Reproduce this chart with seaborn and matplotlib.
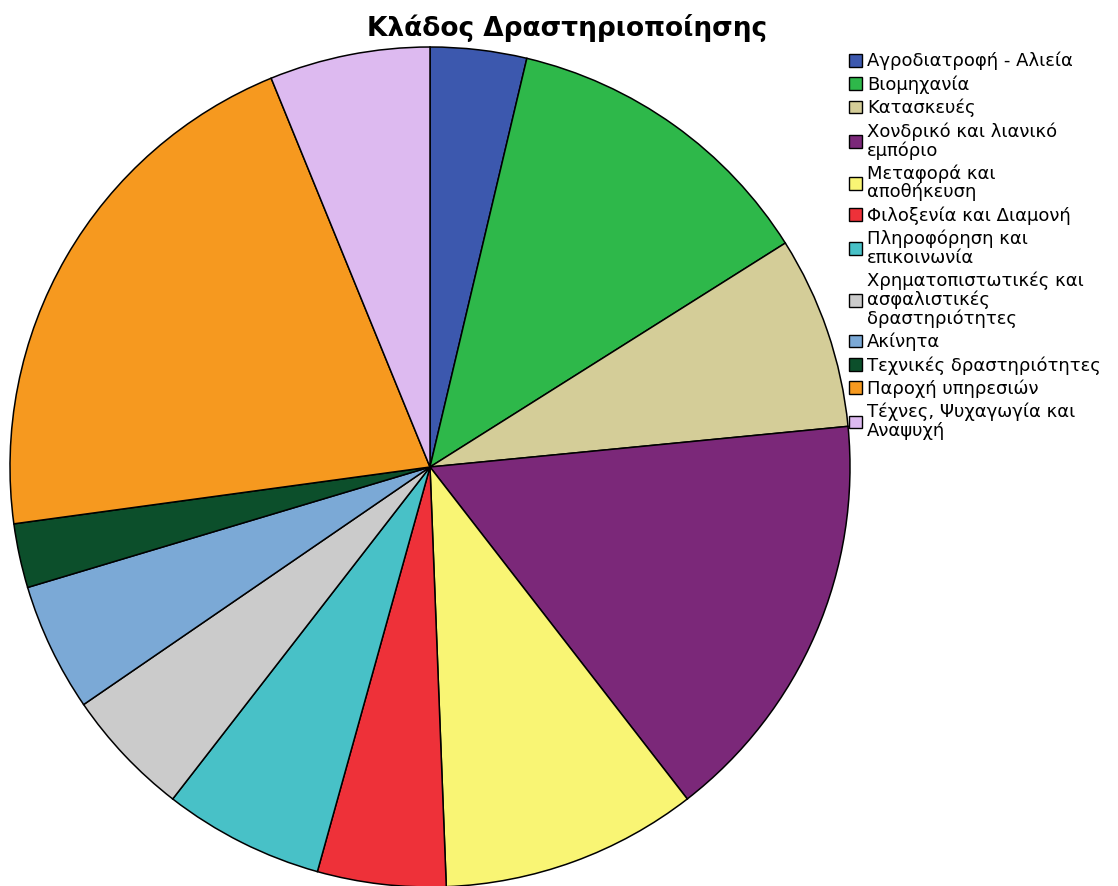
import matplotlib
matplotlib.use("Agg")
import matplotlib.pyplot as plt
import matplotlib.patches as mpatches
import seaborn as sns

sns.set_theme(style="white")
plt.rcParams["font.family"] = ["DejaVu Sans"]
plt.rcParams["text.color"] = "black"

# Number of businesses per sector
sectors = [
    "Αγροδιατροφή - Αλιεία",
    "Βιομηχανία",
    "Κατασκευές",
    "Χονδρικό και λιανικό\nεμπόριο",
    "Μεταφορά και\nαποθήκευση",
    "Φιλοξενία και Διαμονή",
    "Πληροφόρηση και\nεπικοινωνία",
    "Χρηματοπιστωτικές και\nασφαλιστικές\nδραστηριότητες",
    "Ακίνητα",
    "Τεχνικές δραστηριότητες",
    "Παροχή υπηρεσιών",
    "Τέχνες, Ψυχαγωγία και\nΑναψυχή",
]
counts = [3, 10, 6, 13, 8, 4, 5, 4, 4, 2, 17, 5]
colors = [
    "#3C58AE", "#2EB84A", "#D4CD98", "#7B2879", "#F9F574", "#EE3139",
    "#48C1C7", "#CBCBCB", "#7BA9D6", "#0C4F2B", "#F6991F", "#DDBAF0",
]
palette = sns.color_palette(colors)

fig = plt.figure(figsize=(11.18, 8.86), dpi=100)
ax = fig.add_axes([430 / 1118 - 420 / 1118, (886 - 467 - 420) / 886, 840 / 1118, 840 / 886])
ax.pie(
    counts,
    colors=palette,
    startangle=90,
    counterclock=False,
    radius=1.0,
    wedgeprops=dict(edgecolor="black", linewidth=1.1),
)
ax.set_xlim(-1.0, 1.0)
ax.set_ylim(-1.0, 1.0)
ax.set_aspect("equal")
ax.axis("off")

fig.text(567 / 1118, 1 - 28 / 886, "Κλάδος Δραστηριοποίησης", ha="center", va="center",
         fontsize=19, fontweight="bold", color="black")

handles = [mpatches.Patch(facecolor=c, edgecolor="black", linewidth=1.0) for c in palette]
leg = fig.legend(
    handles, sectors,
    loc="upper left",
    bbox_to_anchor=(849 / 1118, 1 - 52 / 886),
    frameon=False,
    fontsize=13,
    handlelength=0.7,
    handleheight=0.7,
    handletextpad=0.3,
    labelspacing=0.27,
    borderaxespad=0,
    borderpad=0,
)
for t in leg.get_texts():
    t.set_linespacing(1.03)
    t.set_color("black")

fig.savefig("out.png", dpi=100)
